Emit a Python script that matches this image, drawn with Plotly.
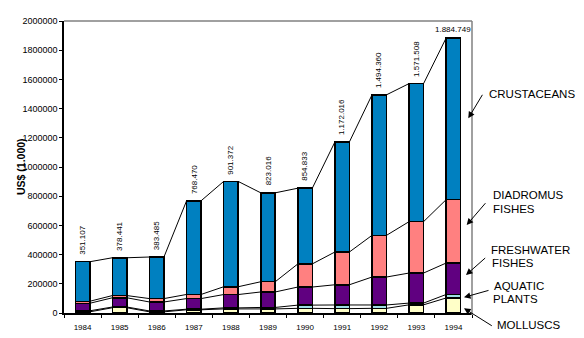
import plotly.graph_objects as go
import numpy as np

years = [1984, 1985, 1986, 1987, 1988, 1989, 1990, 1991, 1992, 1993, 1994]
molluscs = [8000, 36000, 8000, 22000, 28000, 28000, 32000, 30000, 32000, 56000, 103000]
aquatic_plants = [7000, 5000, 6000, 4000, 7000, 10000, 22000, 25000, 23000, 12000, 24000]
freshwater = [51500, 63300, 61500, 72800, 91300, 106100, 123800, 138500, 191400, 205800, 215500]
diadromous = [13800, 15100, 23300, 28200, 53500, 70000, 158500, 224500, 285500, 352100, 434400]
crustaceans = [270807, 259041, 284685, 641470, 721572, 608916, 518533, 754016, 962460, 945608, 1107849]
total_labels = ["351.107", "378.441", "383.485", "768.470", "901.372", "823.016",
                "854.833", "1.172.016", "1.494.360", "1.571.508", "1.884.749"]
y_ticks = [0, 200000, 400000, 600000, 800000, 1000000, 1200000, 1400000, 1600000, 1800000, 2000000]

series = [
    ("MOLLUSCS", molluscs, "#FFFFC8"),
    ("AQUATIC PLANTS", aquatic_plants, "#A0DDE6"),
    ("FRESHWATER FISHES", freshwater, "#600080"),
    ("DIADROMUS FISHES", diadromous, "#FF8080"),
    ("CRUSTACEANS", crustaceans, "#0080C0"),
]

W, H = 584, 338
ML, MR, MT, MB = 64, 112, 21, 25
PW, PH = W - ML - MR, H - MT - MB


def px(x):
    return (x - ML) / PW


def py(y):
    return (H - MB - y) / PH


BW = 0.39
fig = go.Figure()
for name, vals, col in series:
    fig.add_trace(go.Bar(x=years, y=vals, name=name, width=BW,
                         marker=dict(color=col, line=dict(color="black", width=1.5))))

# series lines connecting cumulative boundaries between bars
cum = np.zeros(len(years))
for name, vals, col in series:
    cum = cum + np.array(vals)
    xs, ys = [], []
    for i in range(len(years) - 1):
        xs += [years[i] + BW / 2, years[i + 1] - BW / 2, None]
        ys += [cum[i], cum[i + 1], None]
    fig.add_trace(go.Scatter(x=xs, y=ys, mode="lines", line=dict(color="black", width=1),
                             hoverinfo="skip", showlegend=False))

totals = cum
annotations = []
for i, (yr, t, lab) in enumerate(zip(years, totals, total_labels)):
    if i < len(years) - 1:
        annotations.append(dict(x=yr, y=t, text=lab, textangle=-90, showarrow=False,
                                xanchor="center", yanchor="bottom", yshift=5,
                                font=dict(size=8, color="black", family="Liberation Sans, Arial")))
    else:
        annotations.append(dict(x=yr, y=t, text=lab, showarrow=False,
                                xanchor="center", yanchor="bottom", yshift=2,
                                font=dict(size=8, color="black", family="Liberation Sans, Arial")))

# y axis title
annotations.append(dict(xref="paper", yref="paper", x=px(21), y=py(167), text="<b>US$ (1.000)</b>",
                        textangle=-90, showarrow=False, xanchor="center", yanchor="middle",
                        font=dict(size=10.5, color="black", family="Liberation Sans, Arial")))

# right-side labels
labels = [
    ("CRUSTACEANS", 486.7, 94),
    ("DIADROMUS", 490.7, 195),
    ("FISHES", 490.7, 208.5),
    ("FRESHWATER", 489.3, 250),
    ("FISHES", 490, 262.5),
    ("AQUATIC", 491.7, 285.5),
    ("PLANTS", 490.7, 299),
    ("MOLLUSCS", 495, 325),
]
for txt, lx, ly in labels:
    annotations.append(dict(xref="paper", yref="paper", x=px(lx), y=py(ly), text=txt,
                            showarrow=False, xanchor="left", yanchor="middle",
                            font=dict(size=11.5, color="black", family="Liberation Sans, Arial")))

arrows = [
    ((483.3, 93.3), (468.3, 118.3)),
    ((486.7, 201.7), (466.7, 225)),
    ((486.7, 256.7), (466, 275)),
    ((490, 290), (464, 297.3)),
    ((493.3, 326.7), (464, 308.3)),
]
for (tx, ty), (hx, hy) in arrows:
    annotations.append(dict(xref="paper", yref="paper", x=px(hx), y=py(hy), text="",
                            showarrow=True, ax=tx - hx, ay=ty - hy, arrowhead=2,
                            arrowsize=1.3, arrowwidth=1, arrowcolor="black"))

shapes = [
    dict(type="line", xref="paper", yref="paper", x0=0, x1=1, y0=1, y1=1,
         line=dict(color="#808080", width=1.5)),
    dict(type="line", xref="paper", yref="paper", x0=1, x1=1, y0=py(315), y1=1,
         line=dict(color="#808080", width=1.5)),
]

fig.update_layout(
    width=W, height=H, margin=dict(l=ML, r=MR, t=MT, b=MB, autoexpand=False),
    barmode="stack", showlegend=False,
    plot_bgcolor="white", paper_bgcolor="white",
    annotations=annotations, shapes=shapes,
    font=dict(family="Liberation Sans, Arial", color="black"),
    xaxis=dict(range=[1983.5, 1994.5], tickvals=years, ticktext=[str(y) for y in years],
               automargin=False,
               ticks="outside", ticklen=6, tickcolor="rgba(0,0,0,0)",
               showline=True, linecolor="black", linewidth=1.5, showgrid=False, zeroline=False,
               tickfont=dict(size=8, color="black"),
               minor=dict(tick0=1983.5, dtick=1, ticks="outside", ticklen=3,
                          tickcolor="black", tickwidth=1, showgrid=False)),
    yaxis=dict(range=[0, 2000000], tickvals=y_ticks, tickformat="d",
               automargin=False,
               ticks="outside", ticklen=3, tickcolor="black", tickwidth=1,
               showline=True, linecolor="black", linewidth=1.5, showgrid=False, zeroline=False,
               tickfont=dict(size=9, color="black")),
)

fig.write_html("out.html")
